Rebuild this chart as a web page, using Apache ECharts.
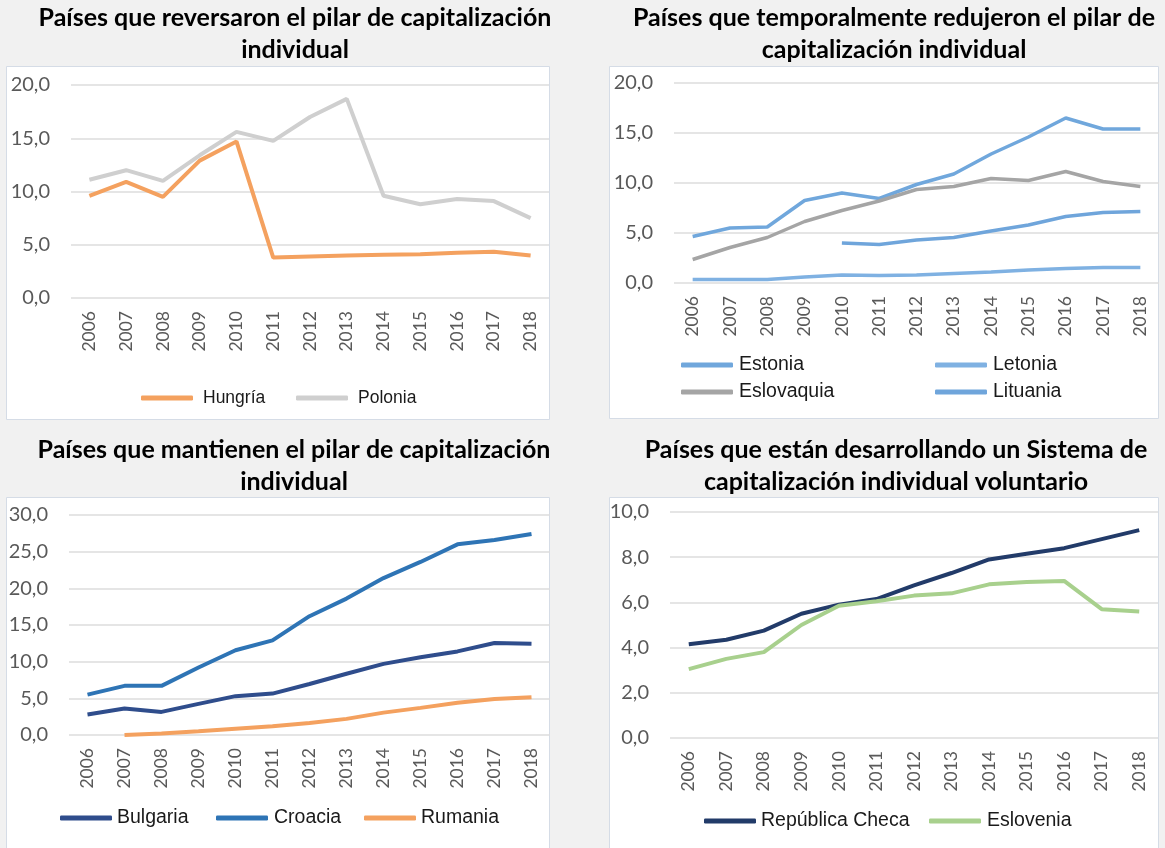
<!DOCTYPE html>
<html>
<head>
<meta charset="utf-8">
<script src="https://cdn.jsdelivr.net/npm/echarts@6/dist/echarts.min.js"></script>
<style>
  html, body { margin: 0; padding: 0; background: #f1f1f1; }
  #chart { width: 1165px; height: 848px; }
</style>
</head>
<body>
<div id="chart"></div>
<script>
  // years on every x axis
  var years = ['2006', '2007', '2008', '2009', '2010', '2011', '2012', '2013', '2014', '2015', '2016', '2017', '2018']

  // panel 1: reversaron
  var hungria = [9.6, 10.9, 9.5, 12.9, 14.7, 3.8, 3.9, 4.0, 4.05, 4.1, 4.25, 4.35, 4.0]
  var polonia = [11.1, 12.0, 11.0, 13.4, 15.6, 14.75, 17.0, 18.7, 9.6, 8.8, 9.3, 9.1, 7.5]

  // panel 2: temporalmente redujeron
  var estonia = [4.65, 5.5, 5.6, 8.25, 9.0, 8.45, 9.85, 10.9, 12.9, 14.6, 16.5, 15.4, 15.4]
  var letonia = [0.35, 0.35, 0.35, 0.6, 0.8, 0.75, 0.8, 0.95, 1.1, 1.3, 1.45, 1.55, 1.55]
  var eslovaquia = [2.35, 3.55, 4.55, 6.15, 7.25, 8.2, 9.35, 9.65, 10.45, 10.25, 11.15, 10.15, 9.65]
  var lituania = [null, null, null, null, 4.0, 3.85, 4.3, 4.55, 5.2, 5.8, 6.65, 7.05, 7.15]

  // panel 3: mantienen
  var bulgaria = [2.8, 3.6, 3.15, 4.25, 5.3, 5.65, 6.95, 8.35, 9.7, 10.6, 11.4, 12.55, 12.45]
  var croacia = [5.5, 6.7, 6.7, 9.2, 11.55, 12.9, 16.2, 18.6, 21.4, 23.6, 26.0, 26.6, 27.4]
  var rumania = [null, 0.0, 0.2, 0.5, 0.85, 1.2, 1.65, 2.2, 3.05, 3.7, 4.4, 4.9, 5.15]

  // panel 4: voluntario
  var checa = [4.15, 4.35, 4.75, 5.5, 5.9, 6.15, 6.75, 7.3, 7.9, 8.15, 8.4, 8.8, 9.2]
  var eslovenia = [3.05, 3.5, 3.8, 5.0, 5.85, 6.05, 6.3, 6.4, 6.8, 6.9, 6.95, 5.7, 5.6]

  // y axis ranges per panel
  var yMax = [20, 20, 30, 10]
  var yStep = [5, 5, 5, 2]

  var chart = echarts.init(document.getElementById('chart'))

  function fmt(v) {
    return v.toFixed(1).replace('.', ',')
  }

  function title(text, x, y) {
    return {
      text: text,
      left: x,
      top: y,
      textAlign: 'center',
      padding: 0,
      textStyle: {
        fontFamily: 'Lato',
        fontWeight: 'bold',
        fontSize: 25,
        lineHeight: 32,
        color: '#000'
      }
    }
  }

  function xAx(i) {
    return {
      type: 'category',
      gridIndex: i,
      data: years,
      axisLine: { show: false },
      axisTick: { show: false },
      axisLabel: {
        rotate: 90,
        margin: 13,
        fontFamily: 'Lato',
        fontSize: 17.5,
        color: '#595959'
      }
    }
  }

  function yAx(i) {
    return {
      type: 'value',
      gridIndex: i,
      min: 0,
      max: yMax[i],
      interval: yStep[i],
      axisLine: { show: false },
      axisTick: { show: false },
      splitLine: { lineStyle: { color: '#dcdcdc', width: 1.5 } },
      axisLabel: {
        margin: 21,
        fontFamily: 'Lato',
        fontSize: 20,
        color: '#595959',
        formatter: fmt
      }
    }
  }

  function line(name, data, i, color, w) {
    return {
      name: name,
      type: 'line',
      xAxisIndex: i,
      yAxisIndex: i,
      data: data,
      symbol: 'none',
      connectNulls: false,
      lineStyle: { color: color, width: w || 4 },
      itemStyle: { color: color },
      emphasis: { disabled: true }
    }
  }

  // one legend per entry so each sits where it does in the picture
  function leg(name, x, y, size, gap) {
    return {
      data: [name],
      left: x,
      top: y - 11,
      padding: 0,
      icon: 'roundRect',
      itemWidth: 52,
      itemHeight: 5,
      selectedMode: false,
      textStyle: {
        fontFamily: 'Liberation Sans',
        fontSize: size,
        lineHeight: 22,
        color: '#1a1a1a',
        padding: [0, 0, 0, gap]
      }
    }
  }

  function box(x, y, w, h) {
    return {
      type: 'rect',
      z: -10,
      shape: { x: x, y: y, width: w, height: h },
      style: { fill: '#fff', stroke: '#d5dce6', lineWidth: 1 }
    }
  }

  chart.setOption({
    backgroundColor: '#f1f1f1',
    animation: false,
    graphic: [
      box(6.5, 66.5, 543, 353),
      box(609.5, 66.5, 549, 352),
      box(6.5, 497.5, 543, 360),
      box(609.5, 497.5, 549, 360)
    ],
    title: [
      title('Países que reversaron el pilar de capitalización\nindividual', 295, 2),
      title('Países que temporalmente redujeron el pilar de\ncapitalización individual', 894, 2),
      title('Países que mantienen el pilar de capitalización\nindividual', 294, 434),
      title('Países que están desarrollando un Sistema de\ncapitalización individual voluntario', 896, 434)
    ],
    grid: [
      { left: 71, top: 85, width: 478, height: 213 },
      { left: 674, top: 83, width: 485, height: 200 },
      { left: 69, top: 515, width: 481, height: 220 },
      { left: 670, top: 512, width: 488, height: 226 }
    ],
    xAxis: [xAx(0), xAx(1), xAx(2), xAx(3)],
    yAxis: [yAx(0), yAx(1), yAx(2), yAx(3)],
    legend: [
      leg('Hungría', 141, 398, 17.5, 5),
      leg('Polonia', 296, 398, 17.5, 5),
      leg('Estonia', 681, 365, 19.5, 1),
      leg('Letonia', 935, 365, 19.5, 1),
      leg('Eslovaquia', 681, 392, 19.5, 1),
      leg('Lituania', 935, 392, 19.5, 1),
      leg('Bulgaria', 60, 818, 19.5, 0),
      leg('Croacia', 216, 818, 19.5, 1),
      leg('Rumania', 364, 818, 19.5, 0),
      leg('República Checa', 704, 821, 19.5, 0),
      leg('Eslovenia', 929, 821, 19.5, 1)
    ],
    series: [
      line('Hungría', hungria, 0, '#f4a15f'),
      line('Polonia', polonia, 0, '#cfcfcf'),
      line('Estonia', estonia, 1, '#70a7dc', 3.5),
      line('Letonia', letonia, 1, '#7fb1e2', 3.5),
      line('Eslovaquia', eslovaquia, 1, '#a5a5a5', 3.5),
      line('Lituania', lituania, 1, '#6fa5db', 3.5),
      line('Bulgaria', bulgaria, 2, '#2f4d8c'),
      line('Croacia', croacia, 2, '#2e74b5'),
      line('Rumania', rumania, 2, '#f4a15f'),
      line('República Checa', checa, 3, '#223b69'),
      line('Eslovenia', eslovenia, 3, '#a8d08d')
    ]
  })
</script>
</body>
</html>
